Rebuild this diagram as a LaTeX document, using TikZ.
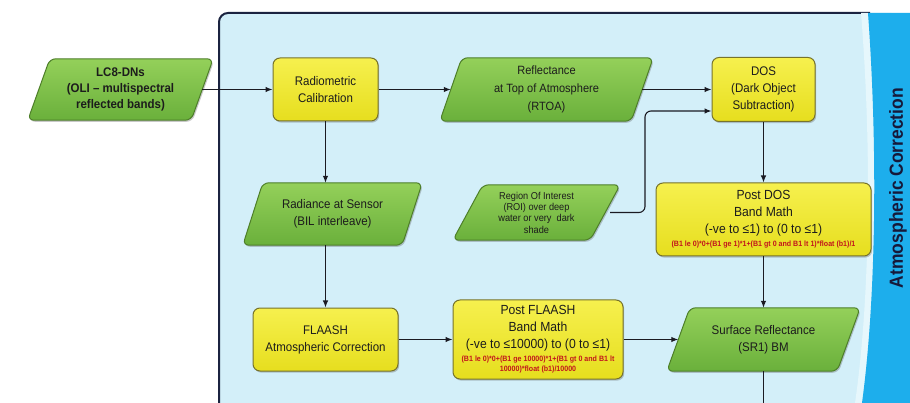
\documentclass[tikz,border=0pt]{standalone}
\usepackage{fontspec}
\setmainfont{Liberation Sans}[FakeStretch=0.92]
\usetikzlibrary{arrows.meta,shadows,calc}

\definecolor{panelblue}{HTML}{D3EFF9}
\definecolor{panelglow}{HTML}{E6F7FC}
\definecolor{bandblue}{HTML}{1DAEEC}
\definecolor{frame}{HTML}{1B2340}
\definecolor{labelnavy}{HTML}{16193A}
\definecolor{greentop}{HTML}{94D05A}
\definecolor{greenbot}{HTML}{6AB03B}
\definecolor{greenline}{HTML}{4D7E29}
\definecolor{yellowtop}{HTML}{F6F04E}
\definecolor{yellowbot}{HTML}{E6DE1E}
\definecolor{yellowline}{HTML}{77732B}
\definecolor{formula}{HTML}{C2161C}
\definecolor{ink}{HTML}{1C1C1C}
\definecolor{wire}{HTML}{1A1A22}

\pgfdeclarelayer{panel}
\pgfdeclarelayer{shapes}
\pgfsetlayers{panel,shapes,main}

% parallelogram drawn around a named text node: #1 node, #2 slant
\newcommand\slantbox[2]{%
  \path[greenshape] (#1.south west) -- ([xshift=#2]#1.north west)
    -- (#1.north east) -- ([xshift=-#2]#1.south east) -- cycle;}

\begin{document}
\begin{tikzpicture}[x=1pt,y=-1pt,
  boxshadow/.style={drop shadow={shadow xshift=1.2pt,shadow yshift=-1.6pt,opacity=0.3,fill=black!70}},
  greenshape/.style={draw=greenline,line width=1pt,rounded corners=6pt,
    top color=greentop,bottom color=greenbot,boxshadow},
  datatext/.style={align=center,text=ink,inner sep=0pt,
    font=\fontsize{12.5}{17}\selectfont},
  procbox/.style={draw=yellowline,line width=1pt,rounded corners=7pt,
    top color=yellowtop,bottom color=yellowbot,boxshadow,
    align=center,text=ink,inner sep=0pt,font=\fontsize{12.5}{17}\selectfont},
  mathbox/.style={procbox,font=\fontsize{13.2}{17}\selectfont},
  conn/.style={draw=wire,line width=1.1pt,-{Latex[length=7pt,width=5.5pt]}},
  plainwire/.style={draw=wire,line width=1.1pt}]

\useasboundingbox (0,0) rectangle (910,403);

% ---- page, panel and side band
\begin{pgfonlayer}{panel}
  \fill[white] (0,0) rectangle (910,403);
  \fill[panelblue,rounded corners=9pt] (219,430) -- (219,13) -- (900,13) -- (900,430) -- cycle;
  \draw[frame,line width=2pt,rounded corners=9pt] (219,430) -- (219,13) -- (870,13);
  \fill[panelglow] (861,13) .. controls (872,150) and (870,300) .. (855,403)
    -- (862,403) .. controls (876,300) and (878,150) .. (868,13) -- cycle;
  \fill[bandblue] (868,13) .. controls (878,150) and (876,300) .. (862,403)
    -- (910,403) -- (910,13) -- cycle;
\end{pgfonlayer}
\node[rotate=90,font=\fontsize{19}{20}\selectfont\bfseries,text=labelnavy]
  (bandlabel) at (898,188) {Atmospheric Correction};

% ---- data items (parallelograms)
\node[datatext,minimum width=185,minimum height=61,font=\fontsize{12.5}{16}\selectfont\bfseries]
  (lc8) at (120.5,89.5) {LC8-DNs\\(OLI – multispectral\\reflected bands)};
\node[datatext,minimum width=213,minimum height=63,font=\fontsize{12}{18}\selectfont]
  (rtoa) at (546.5,89.5) {Reflectance\\at Top of Atmosphere\\(RTOA)};
\node[datatext,minimum width=179,minimum height=62]
  (radiance) at (332.5,214) {Radiance at Sensor\\(BIL interleave)};
\node[datatext,minimum width=167,minimum height=55,font=\fontsize{10}{11.3}\selectfont]
  (roi) at (536.5,212.5) {Region Of Interest\\(ROI) over deep\\water or very\ \ dark\\shade};
\node[datatext,minimum width=193,minimum height=63]
  (sr1) at (763.5,339.5) {Surface Reflectance\\(SR1) BM};

\begin{pgfonlayer}{shapes}
  \slantbox{lc8}{22pt}
  \slantbox{rtoa}{22pt}
  \slantbox{radiance}{20pt}
  \slantbox{roi}{30pt}
  \slantbox{sr1}{23pt}
\end{pgfonlayer}

% ---- processing steps (rounded boxes)
\node[procbox,minimum width=105,minimum height=63]
  (radcal) at (325.5,89.5) {Radiometric\\Calibration};
\node[procbox,minimum width=103,minimum height=64]
  (dos) at (763.5,89.5) {DOS\\(Dark Object\\Subtraction)};
\node[procbox,minimum width=145,minimum height=63]
  (flaash) at (325.5,339.5) {FLAASH\\Atmospheric Correction};
\node[mathbox,minimum width=215,minimum height=73]
  (postdos) at (763.5,219.5)
  {Post DOS\\Band Math\\(-ve to ≤1) to (0 to ≤1)\\[-4pt]
   {\color{formula}\fontsize{7.7}{9}\selectfont\bfseries (B1 le 0)*0+(B1 ge 1)*1+(B1 gt 0 and B1 lt 1)*float (b1)/1}};
\node[mathbox,minimum width=170,minimum height=79]
  (postflaash) at (538,339.5)
  {Post FLAASH\\Band Math\\(-ve to ≤10000) to (0 to ≤1)\\[-4pt]
   {\color{formula}\fontsize{7.7}{9}\selectfont\bfseries (B1 le 0)*0+(B1 ge 10000)*1+(B1 gt 0 and B1 lt}\\[-7pt]
   {\color{formula}\fontsize{7.7}{9}\selectfont\bfseries 10000)*float (b1)/10000}};

% ---- connectors
\coordinate (roibend) at (645,0);
\coordinate (dosin) at ([yshift=-21.5pt]dos.west);
\coordinate (srout) at (763.5,420);

\draw[conn] ([xshift=-11pt]lc8.east) -- (radcal.west);
\draw[conn] (radcal.east) -- ([xshift=11pt]rtoa.west);
\draw[conn] ([xshift=-11pt]rtoa.east) -- (dos.west);
\draw[conn,rounded corners=6pt]
  ([xshift=-10pt]roi.east) -- (roi.east -| roibend) -- (roibend |- dosin) -- (dosin);
\draw[conn] (dos.south) -- (dos.south |- postdos.north);
\draw[conn] (dos.south |- postdos.south) -- (sr1.north);
\draw[plainwire] (sr1.south) -- (srout);
\draw[conn] (radcal.south) -- (radcal.south |- radiance.north);
\draw[conn] (flaash.north |- radiance.south) -- (flaash.north);
\draw[conn] (flaash.east) -- (postflaash.west);
\draw[conn] (postflaash.east) -- ([xshift=11.5pt]sr1.west);
\end{tikzpicture}
\end{document}
